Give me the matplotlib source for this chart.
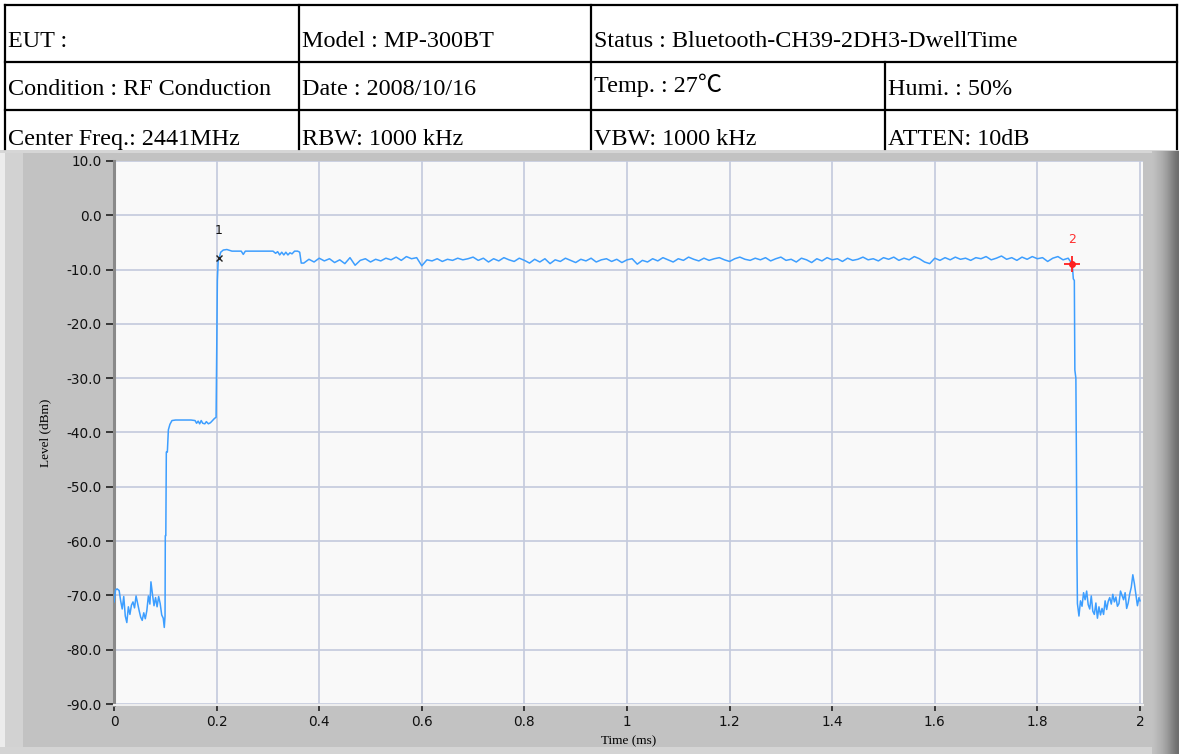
import numpy as np
import matplotlib
matplotlib.use("Agg")
import matplotlib.pyplot as plt
from matplotlib.lines import Line2D
from matplotlib.patches import Rectangle

# ---------------- data ----------------
header_rows = [
    ["EUT :", "Model : MP-300BT", "Status : Bluetooth-CH39-2DH3-DwellTime", None],
    ["Condition : RF Conduction", "Date : 2008/10/16", "Temp. : 27\u2103", "Humi. : 50%"],
    ["Center Freq.: 2441MHz", "RBW: 1000 kHz", "VBW: 1000 kHz", "ATTEN: 10dB"],
]

x_ticks = [0, 0.2, 0.4, 0.6, 0.8, 1, 1.2, 1.4, 1.6, 1.8, 2]
x_tick_labels = ["0", "0.2", "0.4", "0.6", "0.8", "1", "1.2", "1.4", "1.6", "1.8", "2"]
y_ticks = [10, 0, -10, -20, -30, -40, -50, -60, -70, -80, -90]
y_tick_labels = ["10.0", "0.0", "-10.0", "-20.0", "-30.0", "-40.0", "-50.0",
                 "-60.0", "-70.0", "-80.0", "-90.0"]

# trace: noise floor before burst
start_t = [0, 0.003, 0.006, 0.01, 0.013, 0.016, 0.019, 0.022, 0.025, 0.028, 0.031,
           0.034, 0.037, 0.04, 0.043, 0.046, 0.049, 0.052, 0.055, 0.058, 0.061,
           0.064, 0.067, 0.07, 0.072, 0.075, 0.078, 0.081, 0.084, 0.087, 0.09,
           0.093, 0.096, 0.098, 0.0995]
start_dbm = [-71.2, -69.0, -68.8, -69.1, -71.0, -72.5, -70.2, -73.8, -75.0, -72.1, -73.5,
             -71.8, -71.2, -72.3, -70.1, -71.5, -72.8, -74.0, -74.6, -73.2, -74.3,
             -72.8, -70.1, -71.6, -67.5, -69.8, -71.9, -70.4, -72.1, -70.2, -71.5,
             -73.6, -74.2, -75.9, -73.8]

# rising edges, preamble step and first part of burst
rise_t = [0.1, 0.101, 0.102, 0.104, 0.106, 0.109, 0.113, 0.12, 0.13, 0.14, 0.15,
          0.158, 0.161, 0.164, 0.167, 0.17, 0.173, 0.177, 0.18, 0.184, 0.188,
          0.192, 0.196, 0.199, 0.2, 0.2015, 0.203, 0.205, 0.208, 0.213, 0.22,
          0.23, 0.24, 0.248, 0.252, 0.256, 0.27, 0.29, 0.31, 0.315, 0.319,
          0.323, 0.327, 0.331, 0.335, 0.339, 0.343, 0.347, 0.352, 0.358, 0.362, 0.365]
rise_dbm = [-59.0, -59.0, -43.6, -43.6, -39.5, -38.5, -37.8, -37.7, -37.7, -37.7, -37.7,
            -37.8, -38.3, -37.9, -38.4, -37.8, -38.3, -38.4, -38.0, -38.4, -38.2,
            -37.8, -37.4, -37.2, -27.0, -12.0, -8.5, -7.9, -6.8, -6.4, -6.3,
            -6.6, -6.6, -6.6, -7.2, -6.6, -6.6, -6.6, -6.6, -7.0, -6.7,
            -7.3, -6.8, -7.3, -6.8, -7.3, -6.9, -7.1, -6.6, -6.6, -6.8, -8.8]

# burst body, sampled every 0.01 ms from 0.37 ms
body_t0 = 0.37
body_step = 0.01
body_dbm = [-8.8, -8.1, -8.6, -7.9, -8.4, -8.0, -8.7, -8.2, -8.9, -7.8,
            -9.2, -8.3, -8.0, -8.6, -8.1, -8.4, -7.9, -8.2, -7.7, -8.3,
            -7.6, -8.0, -7.8, -9.3, -8.2, -8.4, -8.0, -8.5, -8.1, -8.3,
            -7.9, -8.2, -8.0, -7.7, -8.3, -7.9, -8.6, -8.0, -8.4, -7.8,
            -8.2, -8.5, -7.9, -8.3, -8.8, -8.1, -8.6, -8.0, -8.9, -8.2,
            -8.5, -7.9, -8.3, -8.7, -8.1, -8.4, -7.9, -8.6, -8.2, -8.0,
            -8.5, -8.1, -8.7, -8.2, -8.0, -9.0, -8.3, -8.6, -8.0, -8.4,
            -7.8, -8.2, -8.6, -8.0, -8.3, -7.7, -8.1, -8.4, -7.9, -8.3,
            -8.0, -7.8, -8.2, -8.5, -8.0, -7.7, -8.1, -8.3, -7.9, -8.2,
            -7.8, -8.4, -8.0, -7.7, -8.3, -8.1, -8.6, -7.9, -8.2, -8.7,
            -8.0, -8.4, -7.8, -8.2, -8.0, -8.5, -7.9, -8.3, -8.1, -7.7,
            -8.2, -8.0, -8.4, -7.8, -8.1, -7.7, -8.3, -7.9, -8.2, -7.6,
            -8.0, -8.6, -8.9, -7.9, -8.3, -7.8, -8.2, -7.7, -8.1, -7.9,
            -8.3, -7.8, -8.0, -7.6, -8.2, -7.9, -7.5, -8.1, -7.8, -8.3,
            -7.7, -8.1, -7.6, -8.0, -7.8, -8.5, -7.9, -7.6, -8.2, -7.9]

# falling edge and noise floor after burst
end_t = [1.865, 1.868, 1.870, 1.872, 1.873, 1.875, 1.876, 1.877, 1.878, 1.881,
         1.884, 1.887, 1.890, 1.893, 1.896, 1.899, 1.902, 1.905, 1.908, 1.911,
         1.914, 1.917, 1.920, 1.923, 1.926, 1.929, 1.932, 1.935, 1.938, 1.941,
         1.944, 1.947, 1.950, 1.953, 1.956, 1.959, 1.962, 1.965, 1.968, 1.971,
         1.974, 1.977, 1.980, 1.983, 1.986, 1.989, 1.992, 1.995, 1.998, 2.0]
end_dbm = [-8.6, -9.0, -11.7, -12.0, -28.5, -30.0, -44.0, -62.0, -71.5, -73.8,
           -71.0, -72.0, -69.5, -70.8, -69.2, -71.7, -72.5, -70.1, -72.9, -73.5,
           -71.4, -74.2, -72.1, -73.6, -72.4, -73.5, -71.0, -72.6, -71.1, -70.4,
           -71.6, -69.8, -71.2, -70.3, -72.0, -71.5, -69.2, -70.0, -70.8, -69.5,
           -72.4, -71.4, -69.7, -68.5, -66.2, -67.8, -69.9, -71.9, -70.4, -71.0]

marker1_t, marker1_dbm = 0.204, -7.9
marker2_t, marker2_dbm = 1.868, -9.0

body_t = [round(body_t0 + i * body_step, 4) for i in range(len(body_dbm))]
trace_t = start_t + rise_t + body_t + end_t
trace_dbm = start_dbm + rise_dbm + body_dbm + end_dbm

# ---------------- figure ----------------
W, H = 1179, 754
fig = plt.figure(figsize=(W / 100, H / 100), dpi=100)
fig.patch.set_facecolor("white")

bg = fig.add_axes([0, 0, 1, 1], zorder=0)
bg.set_xlim(0, W)
bg.set_ylim(H, 0)
bg.axis("off")

# gray panel
bg.add_patch(Rectangle((0, 150), W, H - 150, facecolor="#c2c2c2", edgecolor="none", zorder=1))
bg.add_patch(Rectangle((5, 150), 18, H - 150, facecolor="#d2d2d2", edgecolor="none", zorder=1))
bg.add_patch(Rectangle((0, 150), 5, H - 150, facecolor="#ececec", edgecolor="none", zorder=1))
bg.add_patch(Rectangle((0, 150), W, 3, facecolor="#d6d6d6", edgecolor="none", zorder=1))
bg.add_patch(Rectangle((0, 747), W, 7, facecolor="#d4d4d4", edgecolor="none", zorder=1))
shade = np.array([0.76, 0.74, 0.72, 0.70, 0.68, 0.65, 0.62, 0.58, 0.54, 0.50, 0.46, 0.43])
grad_img = np.repeat(shade[None, :, None], 3, axis=2)
bg.imshow(grad_img, extent=(1152, 1179, H, 151), aspect="auto",
          interpolation="bilinear", zorder=2)
bg.set_xlim(0, W)
bg.set_ylim(H, 0)

# header table
row_y = [5, 62, 110, 149]
col_x = [5, 299, 591, 885, 1177]
lw = 1.6
for y in row_y[:3]:
    bg.add_line(Line2D([col_x[0], col_x[-1]], [y, y], color="black", lw=lw, zorder=3))
for x in [5, 299, 591, 1177]:
    bg.add_line(Line2D([x, x], [row_y[0], row_y[-1]], color="black", lw=lw, zorder=3))
bg.add_line(Line2D([885, 885], [row_y[1], row_y[-1]], color="black", lw=lw, zorder=3))

baselines = [47, 95, 145]
text_kw = dict(family=["Liberation Serif", "Noto Sans CJK SC", "DejaVu Sans"],
               fontsize=17.4, color="black", va="baseline", ha="left")
for r, row in enumerate(header_rows):
    for c, txt in enumerate(row):
        if txt is None:
            continue
        yb = baselines[r]
        if r == 1 and c == 2:
            yb -= 3
        bg.text(col_x[c] + 3, yb, txt, zorder=4, **text_kw)

# ---------------- plot ----------------
ax_left, ax_right = 114, 1143
ax_top, ax_bottom = 161, 705
ax = fig.add_axes([ax_left / W, 1 - ax_bottom / H, (ax_right - ax_left) / W,
                   (ax_bottom - ax_top) / H], zorder=2)
ax.set_facecolor("#f9f9f9")
ax.set_xlim(0, 2 * (ax_right - ax_left) / (1140 - ax_left))
ax.set_ylim(-90 - 10 * 1 / 54.3, 10)

ax.set_xticks(x_ticks)
ax.set_xticklabels(x_tick_labels)
ax.set_yticks(y_ticks)
ax.set_yticklabels(y_tick_labels)
ax.grid(True, color="#c4cadd", lw=1.2)
ax.set_axisbelow(True)

for s in ["top", "right"]:
    ax.spines[s].set_visible(False)
ax.spines["left"].set_color("#8a8a8a")
ax.spines["left"].set_linewidth(2.2)
ax.spines["bottom"].set_color("#eeeeee")
ax.spines["bottom"].set_linewidth(1.5)

ax.tick_params(axis="y", length=6, width=1.2, color="#202020", pad=3,
               labelsize=9.8, labelcolor="#111111")
ax.tick_params(axis="x", length=4, width=1.2, color="#202020", pad=3,
               labelsize=9.8, labelcolor="#111111")
for lab in ax.get_xticklabels() + ax.get_yticklabels():
    lab.set_family("DejaVu Sans")

ax.set_ylabel("Level (dBm)", family="Liberation Serif", fontsize=9.5, labelpad=11)
ax.set_xlabel("Time (ms)", family="Liberation Serif", fontsize=9.5, labelpad=5)

ax.plot(trace_t, trace_dbm, color="#3d9eff", lw=1.1, zorder=3)

# markers
ax.plot([marker1_t], [marker1_dbm], marker="x", color="#222222", ms=4.5, mew=1.0, zorder=4)
ax.annotate("1", (marker1_t, marker1_dbm), xytext=(0, 15), textcoords="offset points",
            ha="center", va="bottom", family="DejaVu Sans", fontsize=9, color="#111111")
ax.plot([marker2_t], [marker2_dbm], marker="+", color="#ff2020", ms=12, mew=1.3, zorder=4)
ax.plot([marker2_t], [marker2_dbm], marker="o", color="#ff2020", ms=4, zorder=4)
ax.annotate("2", (marker2_t, marker2_dbm), xytext=(0, 13), textcoords="offset points",
            ha="center", va="bottom", family="DejaVu Sans", fontsize=9, color="#ff3030")

fig.savefig("out.png", dpi=100)
